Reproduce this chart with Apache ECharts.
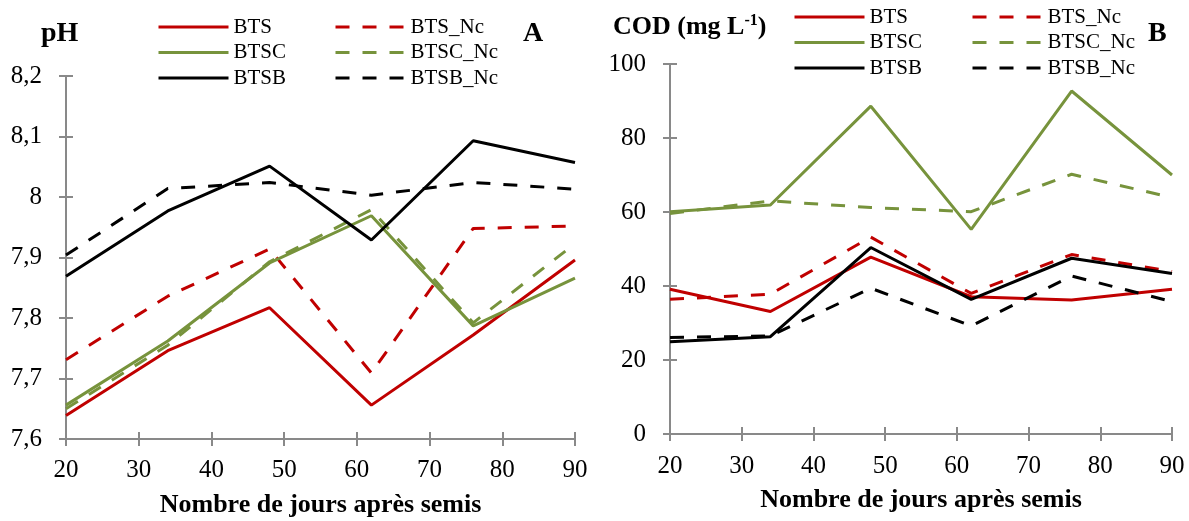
<!DOCTYPE html>
<html><head><meta charset="utf-8">
<script src="https://cdn.jsdelivr.net/npm/echarts@6/dist/echarts.min.js"></script>
<style>html,body{margin:0;padding:0;background:#fff}#c{width:1189px;height:521px}</style>
</head><body><div id="c"></div>
<script>
const days = [20, 34, 48, 62, 76, 90];
const seriesNames = ['BTS', 'BTS_Nc', 'BTSC', 'BTSC_Nc', 'BTSB', 'BTSB_Nc'];

const pH_BTS     = [7.639, 7.746, 7.817, 7.656, 7.772, 7.896];
const pH_BTS_Nc  = [7.731, 7.836, 7.914, 7.709, 7.948, 7.952];
const pH_BTSC    = [7.656, 7.762, 7.891, 7.969, 7.787, 7.866];
const pH_BTSC_Nc = [7.650, 7.755, 7.893, 7.979, 7.792, 7.923];
const pH_BTSB    = [7.869, 7.977, 8.051, 7.929, 8.093, 8.057];
const pH_BTSB_Nc = [7.904, 8.014, 8.024, 8.003, 8.024, 8.013];

const COD_BTS     = [39.1, 33.1, 47.8, 37.1, 36.2, 39.1];
const COD_BTS_Nc  = [36.4, 37.8, 53.2, 38.0, 48.5, 43.9];
const COD_BTSC    = [60.1, 61.9, 88.6, 55.3, 92.7, 70.0];
const COD_BTSC_Nc = [59.6, 63.0, 61.2, 60.1, 70.2, 63.9];
const COD_BTSB    = [24.9, 26.3, 50.4, 36.4, 47.5, 43.4];
const COD_BTSB_Nc = [26.1, 26.5, 39.4, 29.2, 42.7, 35.8];

const xTicks = [20, 30, 40, 50, 60, 70, 80, 90];
const pHTicks = [7.6, 7.7, 7.8, 7.9, 8.0, 8.1, 8.2];
const CODTicks = [0, 20, 40, 60, 80, 100];

const RED = '#C00000', GREEN = '#77933C', BLACK = '#000000';
const FONT = '"Liberation Serif", "Times New Roman", serif';
const AXC = '#898989';
const DASH = [14, 13];

const styles = {
  'BTS': {color: RED, type: 'solid'},
  'BTS_Nc': {color: RED, type: DASH},
  'BTSC': {color: GREEN, type: 'solid'},
  'BTSC_Nc': {color: GREEN, type: DASH},
  'BTSB': {color: BLACK, type: 'solid'},
  'BTSB_Nc': {color: BLACK, type: DASH}
};

const pHData = [pH_BTS, pH_BTS_Nc, pH_BTSC, pH_BTSC_Nc, pH_BTSB, pH_BTSB_Nc];
const CODData = [COD_BTS, COD_BTS_Nc, COD_BTSC, COD_BTSC_Nc, COD_BTSB, COD_BTSB_Nc];

function mkSeries(dataSets, idx) {
  return seriesNames.map((n, i) => ({
    name: n, type: 'line', xAxisIndex: idx * 2, yAxisIndex: idx * 2,
    symbol: 'none', showSymbol: false, animation: false,
    color: styles[n].color,
    lineStyle: {color: styles[n].color, width: 3, type: styles[n].type},
    data: days.map((d, k) => [d, dataSets[i][k]])
  }));
}

function xAxes(gi, nameGap, labelMargin) {
  return [
    {gridIndex: gi, type: 'value', min: xTicks[0], max: xTicks[xTicks.length - 1], interval: 10,
     position: 'bottom',
     name: 'Nombre de jours après semis', nameLocation: 'middle', nameGap: nameGap,
     nameMoveOverlap: false,
     nameTextStyle: {fontFamily: FONT, fontSize: 26, fontWeight: 'bold', color: '#000'},
     axisLine: {show: true, onZero: false, lineStyle: {color: AXC, width: 2}},
     axisTick: {show: true, length: 7, lineStyle: {color: AXC, width: 2}},
     axisLabel: {fontFamily: FONT, fontSize: 25, color: '#000', margin: labelMargin},
     splitLine: {show: false}},
    {gridIndex: gi, type: 'value', min: xTicks[0], max: xTicks[xTicks.length - 1], interval: 10,
     position: 'bottom',
     axisLine: {show: false, onZero: false},
     axisTick: {show: true, inside: true, length: 7, lineStyle: {color: AXC, width: 2}},
     axisLabel: {show: false}, splitLine: {show: false}}
  ];
}

function yAxes(gi, ticks, interval, fmt) {
  return [
    {gridIndex: gi, type: 'value', min: ticks[0], max: ticks[ticks.length - 1], interval: interval,
     position: 'left',
     axisLine: {show: true, onZero: false, lineStyle: {color: AXC, width: 2}},
     axisTick: {show: true, length: 7, lineStyle: {color: AXC, width: 2}},
     axisLabel: {fontFamily: FONT, fontSize: 25, color: '#000', margin: 24, formatter: fmt},
     splitLine: {show: false}},
    {gridIndex: gi, type: 'value', min: ticks[0], max: ticks[ticks.length - 1], interval: interval,
     position: 'left',
     axisLine: {show: false, onZero: false},
     axisTick: {show: true, inside: true, length: 7, lineStyle: {color: AXC, width: 2}},
     axisLabel: {show: false}, splitLine: {show: false}}
  ];
}

const pHFmt = v => String(+(+v).toFixed(1)).replace('.', ',');

function legend(left, top, names) {
  return {
    left: left, top: top, orient: 'vertical', padding: 0,
    itemWidth: 70, itemHeight: 14, itemGap: 4.5,
    data: names, selectedMode: false,
    itemStyle: {opacity: 0},
    lineStyle: {width: 3},
    textStyle: {fontFamily: FONT, fontSize: 21, color: '#000'}
  };
}

const chart = echarts.init(document.getElementById('c'), null, {renderer: 'canvas'});
chart.setOption({
  animation: false,
  backgroundColor: '#fff',
  grid: [
    {left: 66, right: 1189 - 575, top: 76, bottom: 521 - 439, outerBoundsMode: 'none', containLabel: false},
    {left: 670, right: 1189 - 1172, top: 64, bottom: 521 - 434, outerBoundsMode: 'none', containLabel: false}
  ],
  title: [
    {text: 'pH', left: 36, top: 15, textStyle: {fontFamily: FONT, fontSize: 28, fontWeight: 'bold', color: '#000'}},
    {text: 'A', left: 518, top: 15, textStyle: {fontFamily: FONT, fontSize: 28, fontWeight: 'bold', color: '#000'}},
    {text: 'COD (mg L{sup|-1})', left: 608, top: 8,
     textStyle: {fontFamily: FONT, fontSize: 26, fontWeight: 'bold', color: '#000',
       rich: {sup: {fontFamily: FONT, fontSize: 16, fontWeight: 'bold', color: '#000', verticalAlign: 'top', padding: [0, 0, 12, 0]}}}},
    {text: 'B', left: 1143, top: 15, textStyle: {fontFamily: FONT, fontSize: 28, fontWeight: 'bold', color: '#000'}}
  ],
  legend: [
    legend(157, 16.5, ['BTS', 'BTSC', 'BTSB']),
    legend(334, 16.5, ['BTS_Nc', 'BTSC_Nc', 'BTSB_Nc']),
    legend(793, 6.5, ['BTS', 'BTSC', 'BTSB']),
    legend(971, 6.5, ['BTS_Nc', 'BTSC_Nc', 'BTSB_Nc'])
  ],
  xAxis: [...xAxes(0, 53, 19), ...xAxes(1, 53, 20)],
  yAxis: [...yAxes(0, pHTicks, 0.1, pHFmt), ...yAxes(1, CODTicks, 20, v => String(v))],
  series: [...mkSeries(pHData, 0), ...mkSeries(CODData, 1)]
});
</script></body></html>
